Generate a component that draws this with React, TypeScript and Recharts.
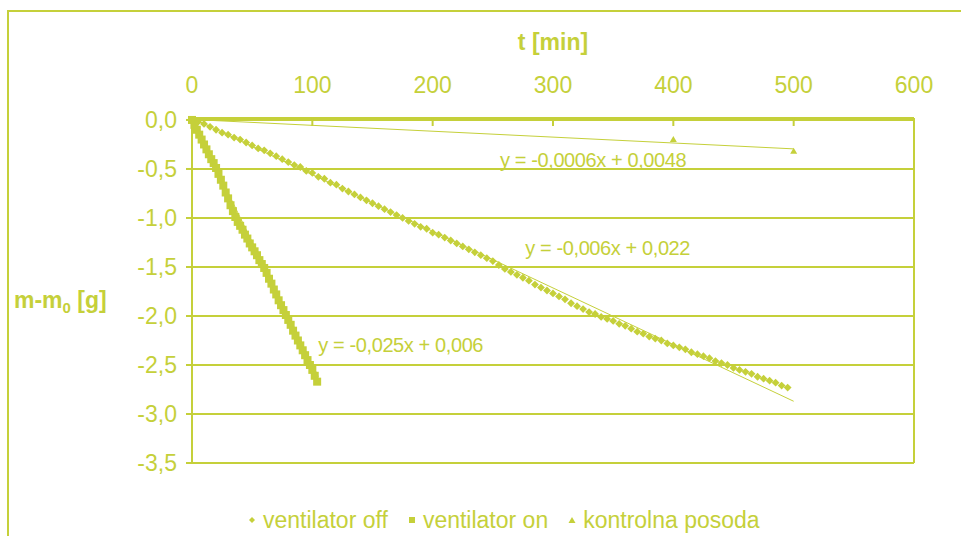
import React from "react";
import {
  ScatterChart,
  Scatter,
  XAxis,
  YAxis,
  CartesianGrid,
  ReferenceLine,
  ReferenceDot,
} from "recharts";

const C = "#C5D03A";
const FONT = '"Liberation Sans", Arial, sans-serif';

// ventilator off: every 5 min
const offTimes = [
  0, 5, 10, 15, 20, 25, 30, 35, 40, 45, 50, 55, 60, 65, 70, 75, 80, 85, 90, 95,
  100, 105, 110, 115, 120, 125, 130, 135, 140, 145, 150, 155, 160, 165, 170, 175, 180, 185, 190, 195,
  200, 205, 210, 215, 220, 225, 230, 235, 240, 245, 250, 255, 260, 265, 270, 275, 280, 285, 290, 295,
  300, 305, 310, 315, 320, 325, 330, 335, 340, 345, 350, 355, 360, 365, 370, 375, 380, 385, 390, 395,
  400, 405, 410, 415, 420, 425, 430, 435, 440, 445, 450, 455, 460, 465, 470, 475, 480, 485, 490, 495,
];
const offMass = [
  0, -0.02, -0.04, -0.07, -0.1, -0.13, -0.15, -0.18, -0.2, -0.23, -0.26, -0.29, -0.31, -0.34, -0.37, -0.4, -0.43, -0.46, -0.48, -0.52,
  -0.54, -0.58, -0.6, -0.64, -0.66, -0.7, -0.73, -0.76, -0.79, -0.82, -0.85, -0.88, -0.91, -0.94, -0.97, -1.0, -1.03, -1.06, -1.09, -1.11,
  -1.15, -1.17, -1.2, -1.23, -1.26, -1.29, -1.32, -1.35, -1.38, -1.41, -1.44, -1.48, -1.52, -1.55, -1.58, -1.61, -1.64, -1.68, -1.71, -1.74,
  -1.77, -1.8, -1.83, -1.87, -1.9, -1.93, -1.96, -1.98, -2.01, -2.03, -2.05, -2.08, -2.1, -2.13, -2.16, -2.18, -2.21, -2.23, -2.25, -2.28,
  -2.3, -2.32, -2.34, -2.37, -2.39, -2.41, -2.43, -2.46, -2.48, -2.5, -2.53, -2.55, -2.57, -2.59, -2.62, -2.64, -2.66, -2.68, -2.71, -2.73,
];

// ventilator on: every 2 min
const onTimes = [
  0, 2, 4, 6, 8, 10, 12, 14, 16, 18, 20, 22, 24, 26, 28, 30, 32, 34, 36, 38, 40, 42, 44, 46, 48, 50,
  52, 54, 56, 58, 60, 62, 64, 66, 68, 70, 72, 74, 76, 78, 80, 82, 84, 86, 88, 90, 92, 94, 96, 98, 100, 102, 104,
];
const onMass = [
  0, -0.05, -0.1, -0.15, -0.2, -0.25, -0.3, -0.35, -0.4, -0.44, -0.49, -0.55, -0.61, -0.67, -0.74, -0.8, -0.87, -0.93, -0.99, -1.04, -1.08, -1.12, -1.17, -1.21, -1.26, -1.3,
  -1.34, -1.38, -1.43, -1.47, -1.51, -1.56, -1.62, -1.67, -1.73, -1.78, -1.84, -1.89, -1.94, -1.99, -2.04, -2.09, -2.15, -2.2, -2.25, -2.3, -2.35, -2.4, -2.45, -2.5, -2.55, -2.61, -2.67,
];

// kontrolna posoda
const ctrlTimes = [0, 400, 500];
const ctrlMass = [0, -0.2, -0.32];

// trend line end points (t, m)
const offTrend = [[0, 0.02], [500, -2.87]];
const onTrend = [[0, 0.006], [105, -2.62]];
const ctrlTrend = [[0, 0.005], [500, -0.295]];

const xTicks = [0, 100, 200, 300, 400, 500, 600];
const yTicks = [0, -0.5, -1, -1.5, -2, -2.5, -3, -3.5];

const equations = [
  { t: 256, m: -0.477, text: "y = -0,0006x + 0,0048" },
  { t: 277, m: -1.38, text: "y = -0,006x + 0,022" },
  { t: 105, m: -2.37, text: "y = -0,025x + 0,006" },
];

const legendItems = ["ventilator off", "ventilator on", "kontrolna posoda"];

const toPoints = (ts: number[], ms: number[]) => ts.map((t, i) => ({ t, m: ms[i] }));
const toLine = (pairs: number[][]) => pairs.map(([t, m]) => ({ t, m }));

function DiamondDot(props: any) {
  const { cx, cy } = props;
  const r = 3.9;
  return <path d={`M${cx},${cy - r}L${cx + r},${cy}L${cx},${cy + r}L${cx - r},${cy}Z`} fill={C} />;
}

function SquareDot(props: any) {
  const { cx, cy } = props;
  return <rect x={cx - 4} y={cy - 4} width={8} height={8} fill={C} />;
}

function TriangleDot(props: any) {
  const { cx, cy } = props;
  return <path d={`M${cx},${cy - 3.5}L${cx + 3.5},${cy + 2.5}L${cx - 3.5},${cy + 2.5}Z`} fill={C} />;
}

const NoDot = () => <g />;

function eqLabel(text: string) {
  return (p: any) => {
    const vb = p.viewBox || {};
    const x = vb.x + (vb.width || 0) / 2;
    const y = vb.y + (vb.height || 0) / 2;
    return (
      <text x={x} y={y} fill={C} fontSize={20} letterSpacing={-0.4} fontFamily={FONT}>
        {text}
      </text>
    );
  };
}

function XTitle(p: any) {
  const vb = p.viewBox;
  return (
    <text x={vb.x + vb.width / 2} y={vb.y - 28} textAnchor="middle" fill={C} fontSize={23} fontWeight="bold" fontFamily={FONT}>
      t [min]
    </text>
  );
}

function YTitle(p: any) {
  const vb = p.viewBox;
  return (
    <text x={14} y={vb.y + vb.height / 2 + 17} fill={C} fontSize={23} fontWeight="bold" fontFamily={FONT}>
      m-m
      <tspan fontSize={15} dy={5}>0</tspan>
      <tspan dy={-5}> [g]</tspan>
    </text>
  );
}

function LegendMarker({ kind }: { kind: number }) {
  return (
    <svg width={12} height={12} style={{ marginRight: 5 }}>
      {kind === 0 && <path d="M6,3L9,6L6,9L3,6Z" fill={C} />}
      {kind === 1 && <rect x={3} y={3} width={6} height={6} fill={C} />}
      {kind === 2 && <path d="M6,3L9.5,9L2.5,9Z" fill={C} />}
    </svg>
  );
}

export default function App() {
  return (
    <div
      style={{
        position: "absolute",
        left: 0,
        top: 0,
        width: 961,
        height: 536,
        overflow: "hidden",
        background: "#FFFFFF",
        fontFamily: FONT,
      }}
    >
      <div
        style={{
          position: "absolute",
          left: 7,
          top: 10,
          width: 1000,
          height: 600,
          border: `2px solid ${C}`,
        }}
      />
      <div style={{ position: "absolute", left: 0, top: 0 }}>
        <ScatterChart width={961} height={536} margin={{ top: 78, right: 47, bottom: 73, left: 112 }}>
          <CartesianGrid horizontal vertical={false} stroke={C} strokeWidth={2} />
          <XAxis
            type="number"
            dataKey="t"
            orientation="top"
            domain={[0, 600]}
            ticks={xTicks}
            interval={0}
            height={40}
            axisLine={{ stroke: C, strokeWidth: 2 }}
            tickLine={{ stroke: C, strokeWidth: 2 }}
            tickSize={-8}
            tickMargin={33}
            tick={{ fill: C, fontSize: 23, fontFamily: FONT }}
            label={{ content: XTitle }}
          />
          <YAxis
            type="number"
            dataKey="m"
            domain={[-3.5, 0]}
            ticks={yTicks}
            interval={0}
            width={80}
            axisLine={{ stroke: C, strokeWidth: 2 }}
            tickLine={{ stroke: C, strokeWidth: 2 }}
            tickSize={6}
            tickMargin={9}
            tick={{ fill: C, fontSize: 23, fontFamily: FONT }}
            tickFormatter={(v: number) => v.toFixed(1).replace(".", ",")}
            label={{ content: YTitle }}
          />
          <ReferenceLine x={600} stroke={C} strokeWidth={2} />

          <Scatter data={toLine(ctrlTrend)} line={{ stroke: C, strokeWidth: 1 }} shape={NoDot} isAnimationActive={false} />
          <Scatter data={toLine(offTrend)} line={{ stroke: C, strokeWidth: 1 }} shape={NoDot} isAnimationActive={false} />
          <Scatter data={toLine(onTrend)} line={{ stroke: C, strokeWidth: 1 }} shape={NoDot} isAnimationActive={false} />

          <Scatter name="ventilator off" data={toPoints(offTimes, offMass)} shape={DiamondDot} isAnimationActive={false} />
          <Scatter name="ventilator on" data={toPoints(onTimes, onMass)} shape={SquareDot} isAnimationActive={false} />
          <Scatter name="kontrolna posoda" data={toPoints(ctrlTimes, ctrlMass)} shape={TriangleDot} isAnimationActive={false} />

          {equations.map((e) => (
            <ReferenceDot
              key={e.text}
              x={e.t}
              y={e.m}
              r={1}
              fill="none"
              stroke="none"
              label={{ content: eqLabel(e.text) }}
            />
          ))}
        </ScatterChart>
      </div>
      <div
        style={{
          position: "absolute",
          left: 246,
          top: 508,
          display: "flex",
          alignItems: "center",
          color: C,
          fontSize: 23,
          lineHeight: "24px",
          whiteSpace: "nowrap",
        }}
      >
        {legendItems.map((name, i) => (
          <div key={name} style={{ display: "flex", alignItems: "center", marginRight: 18 }}>
            <LegendMarker kind={i} />
            <span>{name}</span>
          </div>
        ))}
      </div>
    </div>
  );
}
